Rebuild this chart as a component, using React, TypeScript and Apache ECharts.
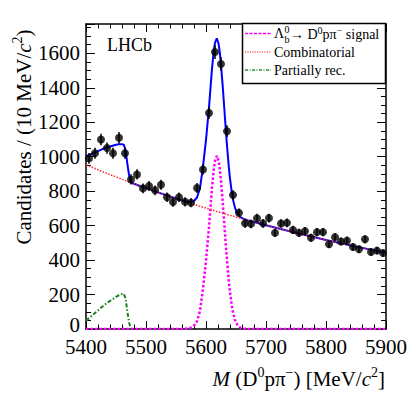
import React, { useEffect, useRef } from "react";
import * as echarts from "echarts";

// Data points: bin centres (MeV/c^2) and candidates per 10 MeV/c^2
const binCenters = [
  5405, 5415, 5425, 5435, 5445, 5455, 5465, 5475, 5485, 5495,
  5505, 5515, 5525, 5535, 5545, 5555, 5565, 5575, 5585, 5595,
  5605, 5615, 5625, 5635, 5645, 5655, 5665, 5675, 5685, 5695,
  5705, 5715, 5725, 5735, 5745, 5755, 5765, 5775, 5785, 5795,
  5805, 5815, 5825, 5835, 5845, 5855, 5865, 5875, 5885, 5895,
];
const candidates = [
  990, 1020, 1100, 1050, 1020, 1110, 1020, 868, 897, 816,
  830, 805, 837, 765, 737, 765, 738, 733, 818, 926,
  1254, 1607, 1538, 1148, 778, 674, 613, 610, 643, 613,
  644, 558, 612, 616, 575, 558, 568, 530, 562, 562,
  492, 533, 508, 513, 476, 463, 521, 447, 455, 441,
];

// Fit components sampled on a common mass grid
const fitMass = [
  5400, 5410, 5420, 5430, 5440, 5450, 5455, 5460, 5463, 5466,
  5469, 5472, 5475, 5480, 5490, 5500, 5520, 5540, 5560, 5570,
  5575, 5580, 5585, 5590, 5595, 5600, 5605, 5610, 5613, 5615,
  5618, 5621, 5623, 5625, 5628, 5630, 5633, 5635, 5638, 5640,
  5643, 5645, 5648, 5650, 5653, 5658, 5663, 5670, 5680, 5700,
  5750, 5800, 5850, 5900,
];
const combinatorial = [
  953, 939, 924, 910, 896, 883, 876, 869, 865, 861,
  857, 853, 850, 843, 830, 818, 793, 769, 746, 735,
  729, 723, 718, 712, 707, 702, 696, 691, 688, 686,
  682, 679, 677, 675, 672, 670, 667, 665, 662, 660,
  657, 655, 652, 650, 647, 642, 637, 630, 621, 602,
  558, 516, 478, 443,
];
const partiallyRec = [
  48, 78, 108, 138, 163, 186, 196, 203, 205, 175,
  100, 35, 0, 0, 0, 0, 0, 0, 0, 0,
  0, 0, 0, 0, 0, 0, 0, 0, 0, 0,
  0, 0, 0, 0, 0, 0, 0, 0, 0, 0,
  0, 0, 0, 0, 0, 0, 0, 0, 0, 0,
  0, 0, 0, 0,
];
const signal = [
  0, 0, 0, 0, 0, 0, 0, 0, 0, 0,
  0, 0, 0, 0, 0, 0, 0, 0, 0, 3,
  8, 20, 45, 105, 235, 395, 590, 820, 928, 976,
  1005, 976, 928, 859, 730, 634, 489, 399, 279, 213,
  136, 97, 56, 38, 20, 6, 2, 0, 0, 0,
  0, 0, 0, 0,
];
const partialEnd = 5475;

const legendLabels = ["Combinatorial", "Partially rec."];

const SERIF = "Liberation Serif";

export default function App() {
  const ref = useRef<HTMLDivElement>(null);

  useEffect(() => {
    document.body.style.margin = "0";
    if (!ref.current) return;
    const chart = echarts.init(ref.current, null, { renderer: "svg" });

    const total = fitMass.map((m, i) => [m, combinatorial[i] + partiallyRec[i] + signal[i]]);
    const combData = fitMass.map((m, i) => [m, combinatorial[i]]);
    const sigData = fitMass.map((m, i) => [m, signal[i]]);
    const partData = fitMass
      .map((m, i) => [m, partiallyRec[i]])
      .filter((d) => d[0] <= partialEnd);
    const pts = binCenters.map((m, i) => [m, candidates[i]]);
    const errs = binCenters.map((m, i) => [m, candidates[i], Math.sqrt(candidates[i])]);

    const axisLineStyle = { color: "#000", width: 1.5 };
    const plain = (v: number) => String(v);
    const yFmt = (v: number) => (v === 0 ? "{z|0}" : String(v));
    const mkX = (pos: "bottom" | "top") => ({
      type: "value",
      position: pos,
      min: 5400,
      max: 5900,
      interval: 100,
      axisLine: { show: true, onZero: false, lineStyle: axisLineStyle },
      axisTick: { show: true, inside: true, length: 8, lineStyle: { color: "#000", width: 1 } },
      minorTick: { show: true, splitNumber: 5, length: 4.5, lineStyle: { color: "#000", width: 1 } },
      splitLine: { show: false },
      axisLabel: {
        show: pos === "bottom",
        color: "#000",
        fontFamily: SERIF,
        fontSize: 21,
        margin: 7,
        formatter: plain,
      },
    });
    const mkY = (pos: "left" | "right") => ({
      type: "value",
      position: pos,
      min: 0,
      max: 1770,
      interval: 200,
      axisLine: { show: true, onZero: false, lineStyle: axisLineStyle },
      axisTick: { show: true, inside: true, length: 9, lineStyle: { color: "#000", width: 1 } },
      minorTick: { show: true, splitNumber: 4, length: 5, lineStyle: { color: "#000", width: 1 } },
      splitLine: { show: false },
      axisLabel: {
        show: pos === "left",
        showMaxLabel: false,
        color: "#000",
        fontFamily: SERIF,
        fontSize: 21,
        margin: 6,
        formatter: yFmt,
        lineHeight: 11,
        rich: {
          z: {
            fontFamily: SERIF,
            fontSize: 21,
            color: "#000",
            lineHeight: 11,
            padding: [0, 0, 9, 0],
          },
        },
      },
    });

    const supStyle = (size: number, lh: number) => ({
      fontSize: size,
      fontFamily: SERIF,
      fill: "#000",
      verticalAlign: "top",
      lineHeight: lh,
    });
    const normStyle = (size: number, lh: number, italic = false) => ({
      fontSize: size,
      fontFamily: SERIF,
      fontStyle: italic ? "italic" : "normal",
      fill: "#000",
      verticalAlign: "bottom",
      lineHeight: lh,
    });
    const txt = (text: string, x: number, y: number, size: number) => ({
      type: "text",
      z: 101,
      x,
      y,
      style: {
        text,
        fontSize: size,
        fontFamily: SERIF,
        fill: "#000",
        align: "left",
        verticalAlign: "middle",
      },
    });

    const option: any = {
      animation: false,
      backgroundColor: "#fff",
      textStyle: { fontFamily: SERIF },
      grid: { left: 86, right: 33, top: 24, bottom: 67, containLabel: false },
      xAxis: [mkX("bottom"), mkX("top")],
      yAxis: [mkY("left"), mkY("right")],
      series: [
        {
          type: "line",
          data: total,
          showSymbol: false,
          symbol: "none",
          lineStyle: { color: "#0000ff", width: 2 },
          z: 2,
        },
        {
          type: "line",
          data: sigData,
          showSymbol: false,
          symbol: "none",
          lineStyle: { color: "#ff00ff", width: 2.5, type: [2.5, 2] },
          z: 3,
        },
        {
          type: "line",
          data: combData,
          showSymbol: false,
          symbol: "none",
          lineStyle: { color: "#ff2a2a", width: 1.5, type: [1.5, 1.5] },
          z: 3,
        },
        {
          type: "line",
          data: partData,
          showSymbol: false,
          symbol: "none",
          lineStyle: { color: "#1f7f1f", width: 2, type: [4, 2, 1.5, 2] },
          z: 3,
        },
        {
          type: "custom",
          data: errs,
          encode: { x: 0, y: 1 },
          z: 4,
          renderItem: (_p: any, api: any) => {
            const x = api.value(0);
            const v = api.value(1);
            const e = api.value(2);
            const a = api.coord([x, v - e]);
            const b = api.coord([x, v + e]);
            return {
              type: "line",
              shape: { x1: a[0], y1: a[1], x2: b[0], y2: b[1] },
              style: { stroke: "#000", lineWidth: 1.5 },
            };
          },
        },
        {
          type: "scatter",
          data: pts,
          symbol: "circle",
          symbolSize: 8,
          itemStyle: { color: "#000" },
          z: 5,
        },
      ],
      graphic: [
        txt("LHCb", 107, 45, 18),
        {
          type: "text",
          z: 100,
          x: 22,
          y: 137,
          rotation: Math.PI / 2,
          style: {
            text: "{n|Candidates / (10 MeV/}{i|c}{s|2}{n|)}",
            align: "center",
            verticalAlign: "middle",
            rich: {
              n: normStyle(21, 24),
              i: normStyle(21, 24, true),
              s: supStyle(14, 14),
            },
          },
        },
        {
          type: "text",
          z: 100,
          x: 385,
          y: 377,
          style: {
            text: "{i|M}{n| (D}{s|0}{n|pπ}{s|−}{n|) [MeV/}{i|c}{s|2}{n|]}",
            align: "right",
            verticalAlign: "middle",
            rich: {
              n: normStyle(21, 24),
              i: normStyle(21, 24, true),
              s: supStyle(14, 14),
            },
          },
        },
        // legend
        {
          type: "rect",
          z: 100,
          shape: { x: 242.5, y: 23.5, width: 143, height: 60 },
          style: { fill: "#fff", stroke: "#000", lineWidth: 1.5 },
        },
        {
          type: "line",
          z: 101,
          shape: { x1: 245, y1: 33.5, x2: 271, y2: 33.5 },
          style: { stroke: "#ff00ff", lineWidth: 1.5, lineDash: [3, 1.5] },
        },
        {
          type: "line",
          z: 101,
          shape: { x1: 245, y1: 52, x2: 271, y2: 52 },
          style: { stroke: "#ff6a6a", lineWidth: 1.5, lineDash: [1.2, 1.2] },
        },
        {
          type: "line",
          z: 101,
          shape: { x1: 245, y1: 70, x2: 271, y2: 70 },
          style: { stroke: "#2f8f2f", lineWidth: 1.5, lineDash: [3, 1.5, 1, 1.5] },
        },
        txt("Λ", 274, 33.5, 14),
        txt("0", 284.5, 29, 10),
        txt("b", 284.5, 39, 10),
        {
          type: "text",
          z: 101,
          x: 290,
          y: 33.5,
          style: {
            text: "{n|→ D}{s|0}{n|pπ}{s|−}{n| signal}",
            align: "left",
            verticalAlign: "middle",
            rich: { n: normStyle(14, 16), s: supStyle(10, 10) },
          },
        },
        txt(legendLabels[0], 274, 52, 14),
        txt(legendLabels[1], 274, 70, 14),
      ],
    };

    chart.setOption(option);
    return () => chart.dispose();
  }, []);

  return <div ref={ref} style={{ width: 419, height: 396 }} />;
}
